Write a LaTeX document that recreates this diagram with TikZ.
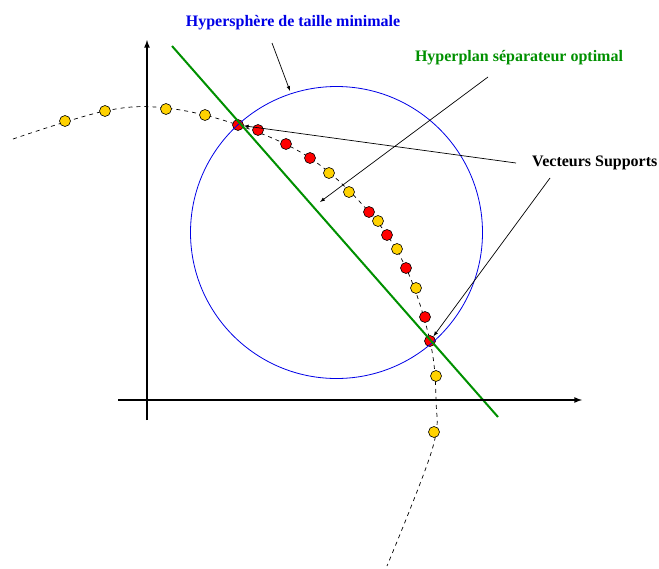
\documentclass[tikz,border=0pt]{standalone}
\usepackage{fontspec}
\setmainfont{Liberation Serif}
\usepackage{xcolor}
\usepackage{tikz}
\usetikzlibrary{calc, positioning}

\definecolor{vertSep}{RGB}{0,144,0}
\definecolor{bleuSph}{RGB}{0,0,230}
\definecolor{jaune}{RGB}{255,210,0}

\begin{document}
\begin{tikzpicture}[>=latex, x=1pt, y=-1pt,
    pt/.style={circle, draw=black, line width=0.6pt, inner sep=0pt, minimum size=11pt},
    ptj/.style={pt, fill=jaune},
    ptr/.style={pt, fill=red},
    lab/.style={font=\fontsize{16}{19}\selectfont\bfseries, inner sep=0pt},
    fl/.style={->, line width=0.7pt}]
    \useasboundingbox (0,0) rectangle (659,568);

    % 1. Courbe en pointillés
    \draw[dashed, dash pattern=on 4pt off 4pt, line width=0.7pt] plot[smooth, tension=0.6] coordinates
        {(13,139) (105,111) (166,108) (238,125) (310,158) (369,212) (406,268) (430,341) (436,400) (432,450) (387,566)};

    % 2. Les points
    \foreach \px/\py [count=\i] in {65/121, 105/111, 166/109, 205/115, 329/173, 349/192, 378/221, 397/249, 416/288, 436/376, 434/432} {
        \node[ptj] (j\i) at (\px,\py) {};
    }
    \foreach \px/\py [count=\i] in {258/130, 286/144, 310/158, 369/212, 387/235, 406/268, 425/317} {
        \node[ptr] (r\i) at (\px,\py) {};
    }
    \node[ptr] (sv1) at (238,125) {};
    \node[ptr] (sv2) at (430,341) {};

    % 3. Hypersphère et hyperplan
    \draw[bleuSph, line width=0.8pt] (336.5,232.5) circle (146);
    \draw[vertSep, line width=2pt] (172,46) -- (498,417);

    % 4. Axes
    \draw[->, line width=1.6pt] (147,420) -- (147,40);
    \draw[->, line width=1.6pt] (118,400) -- (582,400);

    % 5. Légendes
    \node[lab, text=bleuSph] (sph) at (293,23) {Hypersphère de taille minimale};
    \node[lab, text=vertSep] (hyp) at (519,58) {Hyperplan séparateur optimal};
    \node[lab, anchor=west] (vs) at (532,163) {Vecteurs Supports};
    \coordinate (a1) at (272,43);
    \coordinate (b1) at (290,91);
    \coordinate (a2) at (488,77);
    \coordinate (b2) at (320,202);
    \coordinate (a3) at (516,163);
    \coordinate (a4) at (550,178);
    \draw[fl] (a1) -- (b1);
    \draw[fl] (a2) -- (b2);
    \draw[fl] (a3) -- (sv1);
    \draw[fl] (a4) -- (sv2);
\end{tikzpicture}
\end{document}
